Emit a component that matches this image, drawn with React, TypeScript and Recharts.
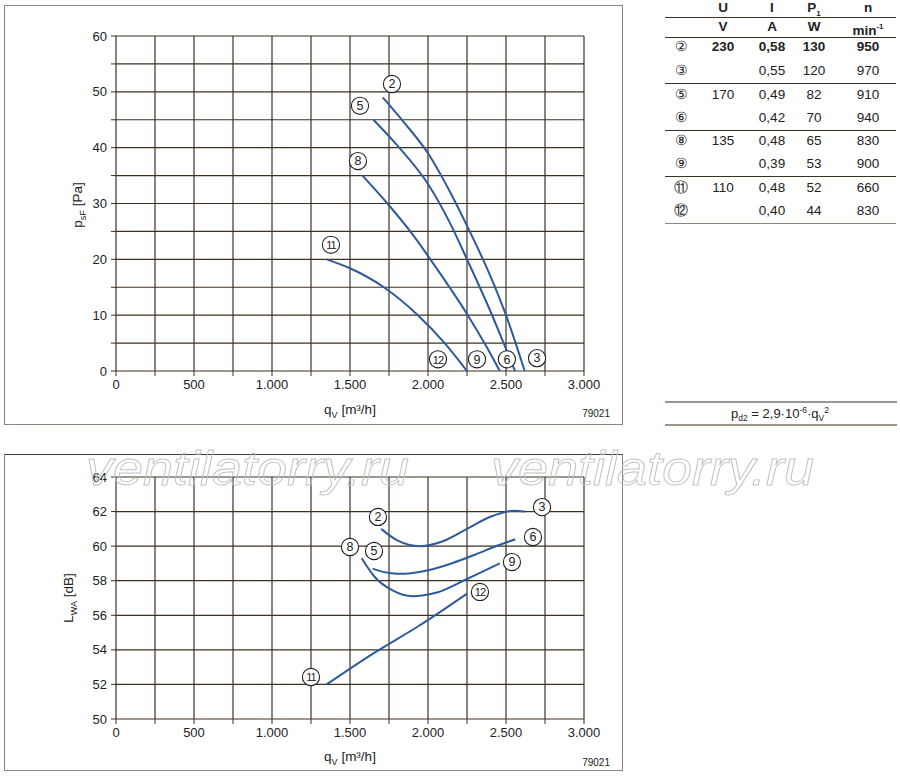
import React from 'react';
import {
  ComposedChart,
  Line,
  Scatter,
  XAxis,
  YAxis,
  CartesianGrid,
} from 'recharts';

// pressure curves (qV in m³/h, psF in Pa)
const qP2 = [1710, 1850, 2000, 2150, 2250, 2400, 2500, 2620];
const pP2 = [49, 44.4, 39, 31.6, 26, 17, 10, 0];
const qP5 = [1650, 1800, 2000, 2150, 2250, 2400, 2485, 2558];
const pP5 = [45, 40.5, 33.5, 26, 20, 10.7, 5, 0];
const qP8 = [1580, 1740, 1900, 2015, 2150, 2255, 2370, 2460];
const pP8 = [35, 30, 24.5, 20, 14.5, 10, 4.6, 0];
const qP11 = [1350, 1500, 1717, 1935, 2107, 2250];
const pP11 = [20, 18.4, 15, 10, 5, 0];

// sound power curves (LWA in dB)
const qL2 = [1700, 1800, 1950, 2100, 2250, 2400, 2550, 2620];
const lL2 = [61, 60.35, 60, 60.3, 61, 61.7, 62.05, 62];
const qL5 = [1645, 1750, 1850, 2000, 2150, 2300, 2450, 2560];
const lL5 = [58.7, 58.45, 58.4, 58.6, 59, 59.5, 60.05, 60.4];
const qL8 = [1575, 1660, 1770, 1900, 2050, 2250, 2460];
const lL8 = [59.3, 58.2, 57.45, 57.1, 57.3, 58.1, 59];
const qL11 = [1350, 1650, 1935, 2100, 2250];
const lL11 = [52, 53.8, 55.35, 56.33, 57.25];

// circled curve markers
const topTags = ['2', '5', '8', '11', '12', '9', '6', '3'];
const topTagQ = [1769, 1564, 1551, 1378, 2064, 2314, 2506, 2699];
const topTagP = [51.4, 47.5, 37.6, 22.6, 2.1, 2.1, 2.1, 2.3];
const botTags = ['3', '2', '6', '8', '5', '9', '12', '11'];
const botTagQ = [2731, 1679, 2673, 1500, 1654, 2538, 2333, 1250];
const botTagL = [62.26, 61.69, 60.53, 59.95, 59.72, 59.08, 57.35, 52.43];

const xTicks = [0, 250, 500, 750, 1000, 1250, 1500, 1750, 2000, 2250, 2500, 2750, 3000];
const yTicksTop = [0, 5, 10, 15, 20, 25, 30, 35, 40, 45, 50, 55, 60];
const yTicksBot = [50, 52, 54, 56, 58, 60, 62, 64];

// table
const tabIds = ['②', '③', '⑤', '⑥', '⑧', '⑨', '⑪', '⑫'];
const tabU = ['230', '', '170', '', '135', '', '110', ''];
const tabI = ['0,58', '0,55', '0,49', '0,42', '0,48', '0,39', '0,48', '0,40'];
const tabP = ['130', '120', '82', '70', '65', '53', '52', '44'];
const tabN = ['950', '970', '910', '940', '830', '900', '660', '830'];

const FONT = '"Liberation Sans", Arial, sans-serif';
const GRID = '#3d3122';
const BLUE = '#2f5a9a';

const mk = (qs: number[], vs: number[]) => qs.map((q, i) => ({ q, v: vs[i] }));
const mkTags = (ts: string[], qs: number[], vs: number[]) =>
  ts.map((t, i) => ({ q: qs[i], v: vs[i], t }));

const fmtQ = (v: number) => {
  if (v % 500 !== 0) return '';
  if (v < 1000) return String(v);
  return `${Math.floor(v / 1000)}.${String(v % 1000).padStart(3, '0')}`;
};

const Tag = (props: any) => {
  const { cx, cy, payload } = props;
  const two = payload.t.length > 1;
  return (
    <g>
      <circle cx={cx} cy={cy} r={8.6} fill="#fff" stroke="#222" strokeWidth={1.1} />
      <text x={cx} y={cy + 4.3} textAnchor="middle" fontSize={two ? 11 : 12.5} letterSpacing={two ? -0.9 : 0} fontFamily={FONT} fill="#222">
        {payload.t}
      </text>
    </g>
  );
};

const tickStyle = { fill: '#222', fontSize: 13, fontFamily: FONT };

const Chart = ({ series, tags, yTicks, yDomain, yFmt, height, top, xh }: any) => (
  <ComposedChart width={619} height={height} margin={{ top, right: 39, bottom: 0, left: 0 }}>
    <CartesianGrid stroke={GRID} strokeWidth={1.2} horizontalValues={yTicks} verticalValues={xTicks} />
    <XAxis
      type="number"
      dataKey="q"
      domain={[0, 3000]}
      ticks={xTicks}
      interval={0}
      tickFormatter={fmtQ}
      height={xh}
      axisLine={false}
      tickLine={{ stroke: GRID }}
      tickSize={5}
      tickMargin={4}
      tick={tickStyle}
      allowDataOverflow
    />
    <YAxis
      type="number"
      dataKey="v"
      domain={yDomain}
      ticks={yTicks}
      interval={0}
      tickFormatter={yFmt}
      width={112}
      axisLine={false}
      tickLine={{ stroke: GRID }}
      tickSize={5}
      tickMargin={4}
      tick={tickStyle}
      allowDataOverflow
    />
    {series.map((d: any, i: number) => (
      <Line key={i} data={d} dataKey="v" type="monotone" stroke={BLUE} strokeWidth={2} dot={false} isAnimationActive={false} />
    ))}
    <Scatter data={tags} dataKey="v" shape={Tag} isAnimationActive={false} />
  </ComposedChart>
);

const Cell = ({ x, y, children, bold, anchor = 'center' }: any) => (
  <div
    style={{
      position: 'absolute',
      left: x - 40,
      top: y - 9,
      width: 80,
      textAlign: anchor,
      fontSize: 13.5,
      lineHeight: '18px',
      fontWeight: bold ? 'bold' : 'normal',
      color: '#222',
    }}
  >
    {children}
  </div>
);

const HLine = ({ y, color = '#3d3122' }: any) => (
  <div style={{ position: 'absolute', left: 665, top: y, width: 231, height: 1.3, background: color }} />
);

export default function App() {
  const rowY = [47, 71, 95, 118, 141, 164, 188, 211];
  const colX = [723, 772, 814, 868];
  return (
    <div style={{ position: 'absolute', left: 0, top: 0, width: 900, height: 776, background: '#fff', fontFamily: FONT, overflow: 'hidden' }}>
      {/* top box */}
      <div style={{ position: 'absolute', left: 4, top: 5, width: 617, height: 418, border: '1.3px solid #8a857d' }} />
      <div style={{ position: 'absolute', left: 4, top: 5 }}>
        <Chart
          series={[mk(qP2, pP2), mk(qP5, pP5), mk(qP8, pP8), mk(qP11, pP11)]}
          tags={mkTags(topTags, topTagQ, topTagP)}
          yTicks={yTicksTop}
          yDomain={[0, 60]}
          yFmt={(v: number) => (v % 10 === 0 ? String(v) : '')}
          height={420}
          top={31}
          xh={54}
        />
      </div>

      {/* bottom box */}
      <div style={{ position: 'absolute', left: 4, top: 454, width: 617, height: 315, border: '1.3px solid #8a857d', borderTop: '1.5px solid #4a3c2c' }} />
      <div style={{ position: 'absolute', left: 4, top: 454 }}>
        <Chart
          series={[mk(qL2, lL2), mk(qL5, lL5), mk(qL8, lL8), mk(qL11, lL11)]}
          tags={mkTags(botTags, botTagQ, botTagL)}
          yTicks={yTicksBot}
          yDomain={[50, 64]}
          yFmt={(v: number) => String(v)}
          height={317}
          top={23}
          xh={52}
        />
      </div>

      {/* titles, codes, formula, watermark */}
      <svg width={900} height={776} style={{ position: 'absolute', left: 0, top: 0, pointerEvents: 'none' }} fontFamily={FONT}>
        <text transform="translate(82,205) rotate(-90)" textAnchor="middle" fontSize={13.5} fill="#222">
          p<tspan fontSize={9} dy={4}>sF</tspan>
          <tspan dy={-4}> [Pa]</tspan>
        </text>
        <text x={350} y={414} textAnchor="middle" fontSize={13.5} fill="#222">
          q<tspan fontSize={9} dy={4}>V</tspan>
          <tspan dy={-4}> [m³/h]</tspan>
        </text>
        <text x={610} y={417} textAnchor="end" fontSize={10} fill="#222">79021</text>

        <text transform="translate(73,598) rotate(-90)" textAnchor="middle" fontSize={13.5} fill="#222">
          L<tspan fontSize={9} dy={4}>WA</tspan>
          <tspan dy={-4}> [dB]</tspan>
        </text>
        <text x={350} y={761} textAnchor="middle" fontSize={13.5} fill="#222">
          q<tspan fontSize={9} dy={4}>V</tspan>
          <tspan dy={-4}> [m³/h]</tspan>
        </text>
        <text x={610} y={766} textAnchor="end" fontSize={10} fill="#222">79021</text>

        <line x1={665} x2={897} y1={402} y2={402} stroke="#3d3122" strokeWidth={1.2} />
        <line x1={665} x2={897} y1={425} y2={425} stroke="#3d3122" strokeWidth={1.2} />
        <text x={780} y={418} textAnchor="middle" fontSize={13} fill="#222">
          p<tspan fontSize={8.5} dy={3}>d2</tspan>
          <tspan dy={-3}> = 2,9·10</tspan>
          <tspan fontSize={8.5} dy={-5}>-6</tspan>
          <tspan dy={5}>·q</tspan>
          <tspan fontSize={8.5} dy={3}>V</tspan>
          <tspan fontSize={8.5} dy={-8}>2</tspan>
        </text>

        <text x={86} y={485} fontSize={48} fontStyle="italic" fill="none" stroke="#c2c2c2" strokeWidth={0.9} textLength={323} lengthAdjust="spacingAndGlyphs">ventilatorry.ru</text>
        <text x={491} y={485} fontSize={48} fontStyle="italic" fill="none" stroke="#c2c2c2" strokeWidth={0.9} textLength={323} lengthAdjust="spacingAndGlyphs">ventilatorry.ru</text>
      </svg>

      {/* table */}
      <Cell x={colX[0]} y={8} bold>U</Cell>
      <Cell x={colX[1]} y={8} bold>I</Cell>
      <Cell x={colX[2]} y={8} bold>P<sub style={{ fontSize: 8 }}>1</sub></Cell>
      <Cell x={colX[3]} y={8} bold>n</Cell>
      <HLine y={17} />
      <Cell x={colX[0]} y={27} bold>V</Cell>
      <Cell x={colX[1]} y={27} bold>A</Cell>
      <Cell x={colX[2]} y={27} bold>W</Cell>
      <Cell x={colX[3]} y={27} bold>min<sup style={{ fontSize: 8 }}>-1</sup></Cell>
      <HLine y={37} />
      {tabIds.map((id, i) => (
        <React.Fragment key={id}>
          <Cell x={681} y={rowY[i]}>{id}</Cell>
          <Cell x={colX[0]} y={rowY[i]} bold={i === 0}>{tabU[i]}</Cell>
          <Cell x={colX[1]} y={rowY[i]} bold={i === 0}>{tabI[i]}</Cell>
          <Cell x={colX[2]} y={rowY[i]} bold={i === 0}>{tabP[i]}</Cell>
          <Cell x={colX[3]} y={rowY[i]} bold={i === 0}>{tabN[i]}</Cell>
        </React.Fragment>
      ))}
      <HLine y={83} />
      <HLine y={130} />
      <HLine y={176} />
      <HLine y={223} color="#8a857d" />
    </div>
  );
}
